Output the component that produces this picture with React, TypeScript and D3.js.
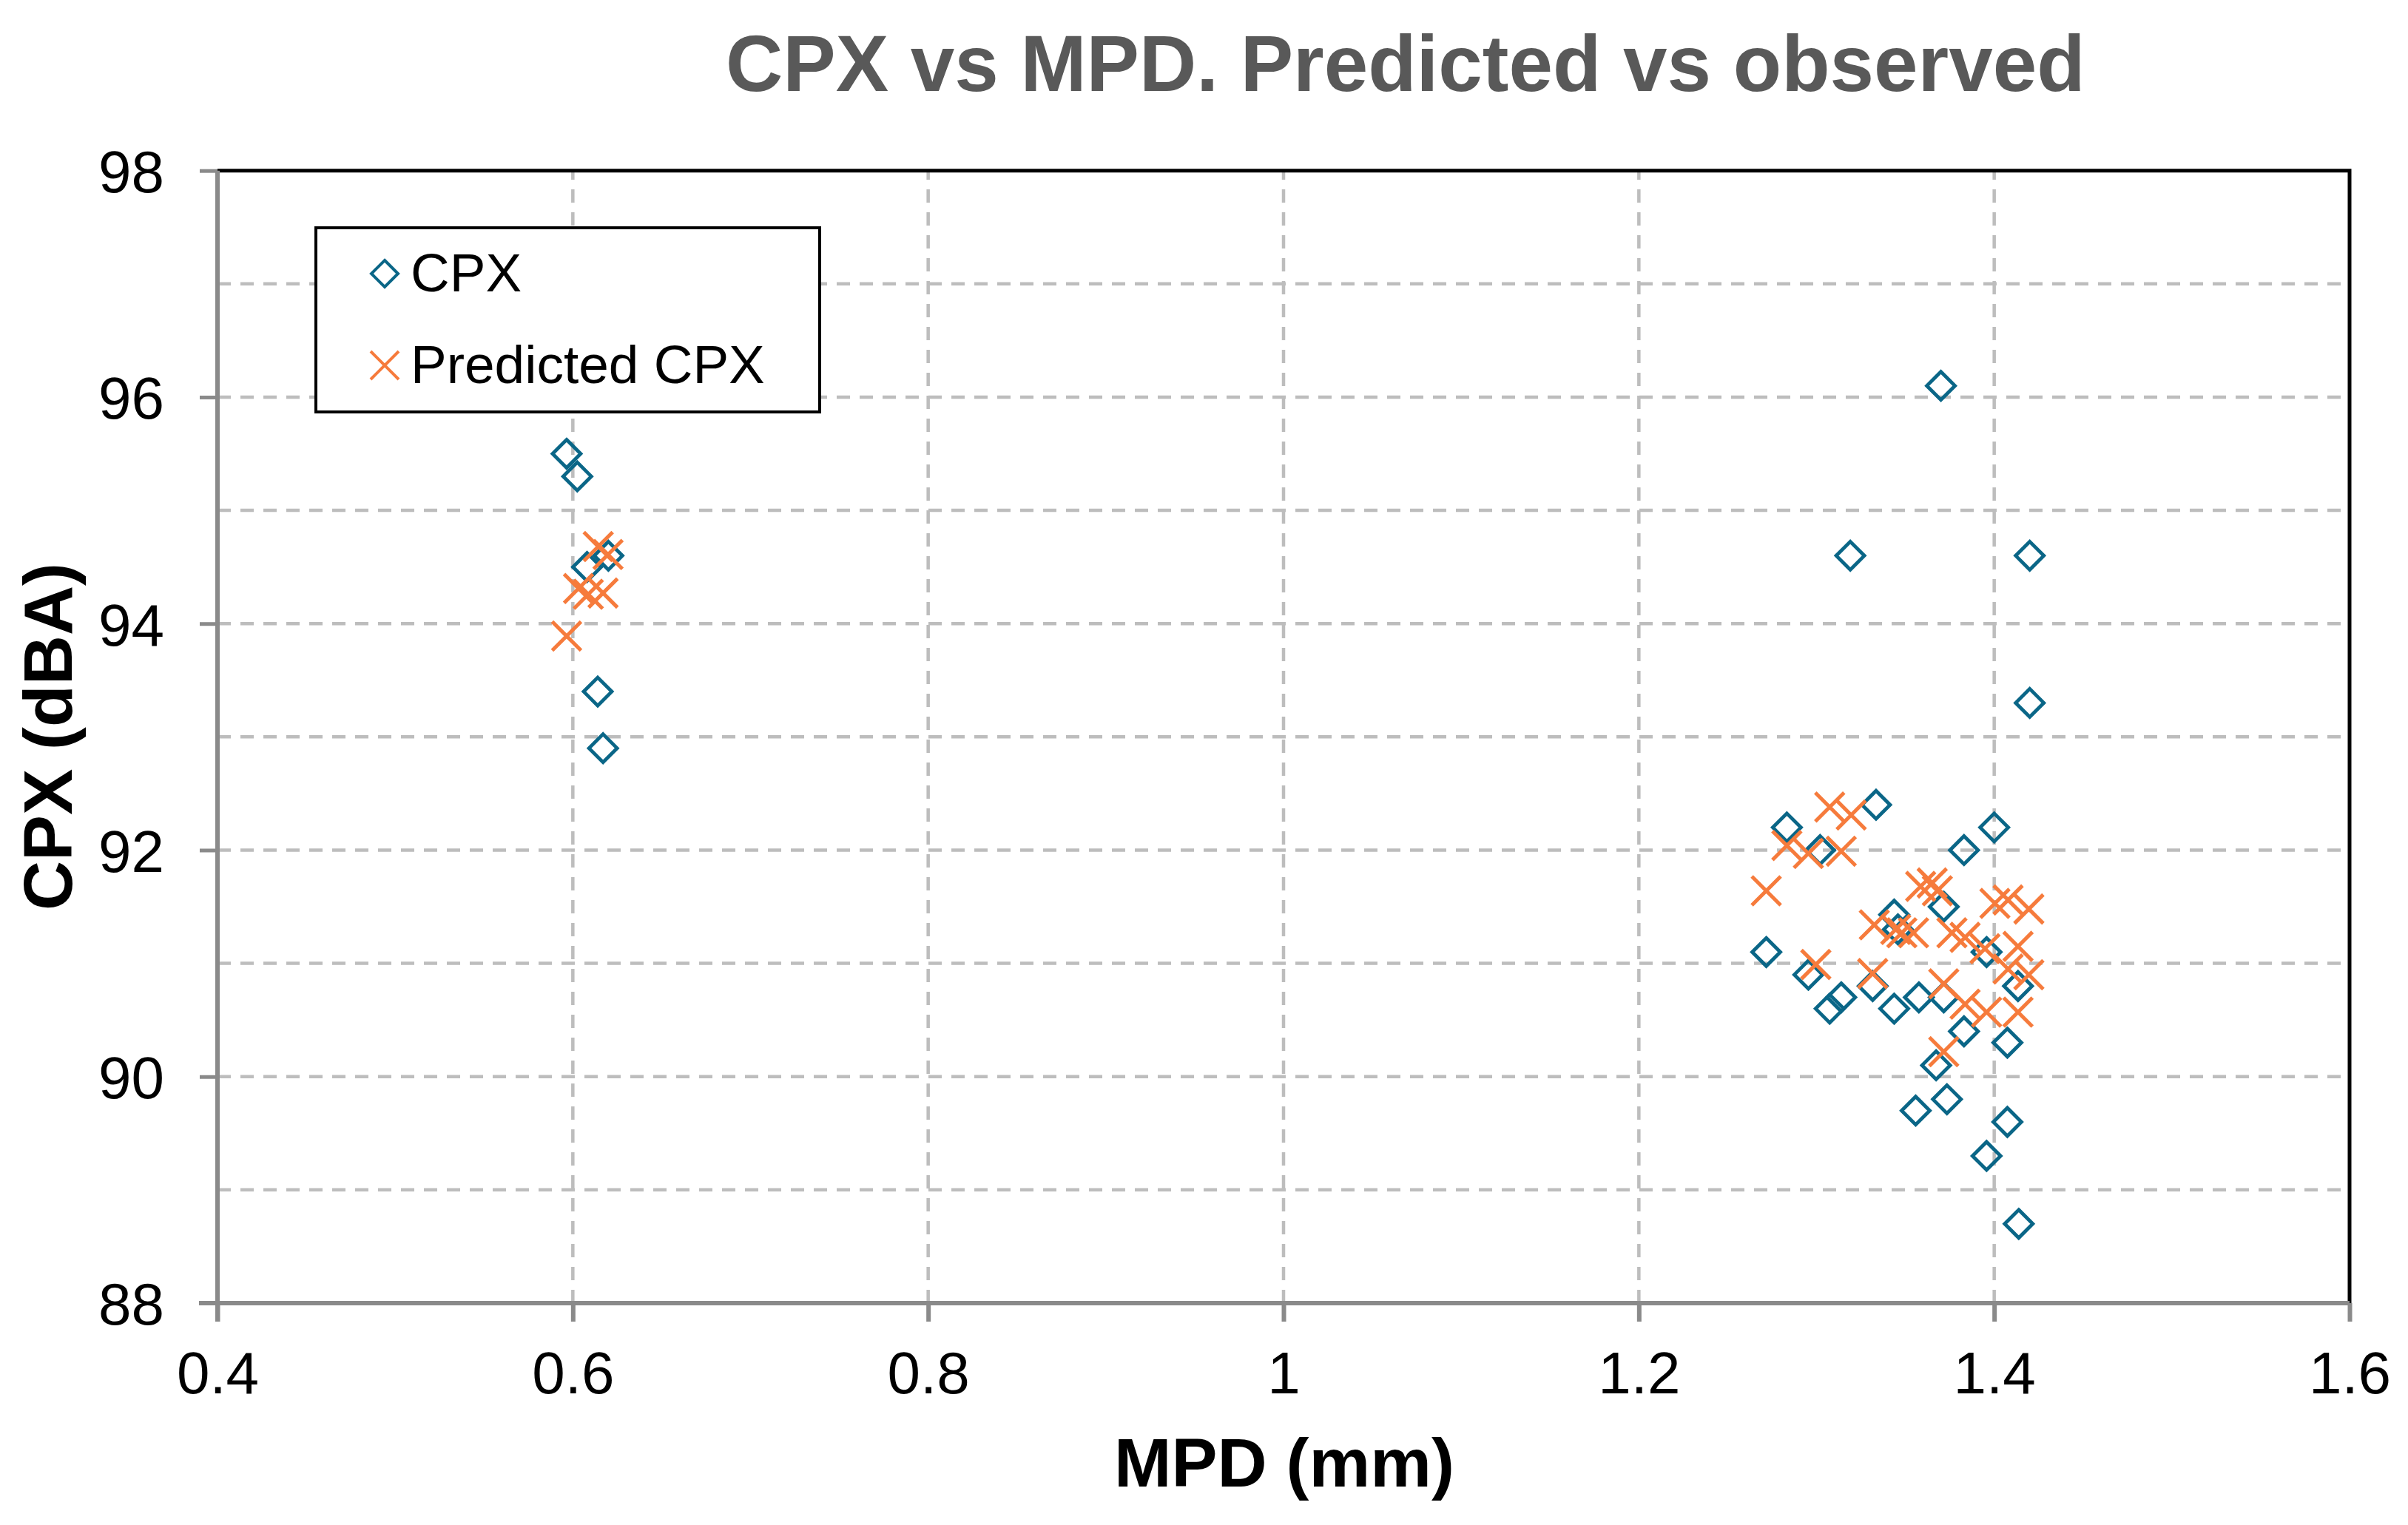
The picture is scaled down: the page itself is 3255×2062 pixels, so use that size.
import React, { useEffect, useRef } from "react";
import * as d3 from "d3";

// ---- Data ----
const cpxMpd = [
  0.5965, 0.6025, 0.608, 0.62, 0.614, 0.617,
  1.37, 1.319, 1.42, 1.42,
  1.2833, 1.3335, 1.4, 1.302, 1.383,
  1.3716, 1.3437, 1.3458, 1.2717, 1.3957,
  1.2954, 1.4134, 1.3316, 1.3139, 1.3074, 1.3437, 1.3576, 1.3716,
  1.383, 1.4074, 1.3673, 1.3734, 1.3558, 1.4074, 1.3957, 1.4138,
];
const cpxObserved = [
  95.5, 95.3, 94.5, 94.6, 93.4, 92.9,
  96.1, 94.6, 94.6, 93.3,
  92.2, 92.4, 92.2, 92.0, 92.0,
  91.5, 91.43, 91.3, 91.1, 91.1,
  90.9, 90.8, 90.8, 90.7, 90.6, 90.6, 90.7, 90.7,
  90.4, 90.3, 90.1, 89.8, 89.7, 89.6, 89.3, 88.7,
];
const predMpd = [
  0.6143, 0.6198, 0.6032, 0.6087, 0.617, 0.5965,
  1.3074, 1.3195, 1.2833, 1.2954, 1.3139, 1.2717,
  1.3586, 1.3651, 1.368, 1.4004, 1.4078, 1.4195,
  1.3325, 1.3446, 1.348, 1.3546, 1.3762, 1.3836,
  1.4134, 1.3948, 1.4078, 1.4195, 1.2996, 1.3316,
  1.3716, 1.3836, 1.3957, 1.4134, 1.3716,
];
const cpxPredicted = [
  94.68, 94.61, 94.31, 94.26, 94.27, 93.89,
  92.38, 92.31, 92.04, 91.97, 91.99, 91.64,
  91.68, 91.71, 91.64, 91.53, 91.56, 91.48,
  91.34, 91.3, 91.27, 91.27, 91.27, 91.23,
  91.15, 91.13, 90.95, 90.9, 90.99, 90.91,
  90.82, 90.64, 90.57, 90.57, 90.22,
];
const xTicks = [0.4, 0.6, 0.8, 1.0, 1.2, 1.4, 1.6];
const yTicks = [88, 90, 92, 94, 96, 98];
const yGrid = [89, 90, 91, 92, 93, 94, 95, 96, 97];
const xGrid = [0.6, 0.8, 1.0, 1.2, 1.4];
const titleText = "CPX vs MPD. Predicted vs observed";
const xLabel = "MPD (mm)";
const yLabel = "CPX (dBA)";
const seriesNames = ["CPX", "Predicted CPX"];

const W = 3255;
const H = 2062;
const TEAL = "#0a6687";
const ORANGE = "#f67b3c";
const FONT = "'Liberation Sans', Arial, Helvetica, sans-serif";

export default function App() {
  const ref = useRef<SVGSVGElement>(null);

  useEffect(() => {
    const svg = d3.select(ref.current);
    svg.selectAll("*").remove();

    const left = 294, right = 3176, top = 230.7, bottom = 1762;
    const x = d3.scaleLinear().domain([0.4, 1.6]).range([left, right]);
    const y = d3.scaleLinear().domain([88, 98]).range([bottom, top]);

    svg.append("rect").attr("width", W).attr("height", H).attr("fill", "#fff");

    // grid
    const grid = svg.append("g").attr("stroke", "#bdbdbd").attr("stroke-width", 4.5).attr("stroke-dasharray", "18,13");
    grid.selectAll("line.h").data(yGrid).enter().append("line")
      .attr("x1", left).attr("x2", right).attr("y1", (d) => y(d)).attr("y2", (d) => y(d));
    grid.selectAll("line.v").data(xGrid).enter().append("line")
      .attr("y1", bottom).attr("y2", top).attr("x1", (d) => x(d)).attr("x2", (d) => x(d));

    // border top/right black
    svg.append("path")
      .attr("d", `M${left},${top}H${right}V${bottom}`)
      .attr("fill", "none").attr("stroke", "#000").attr("stroke-width", 5);

    // axes
    const axisColor = "#8a8a8a";
    const xAxis = d3.axisBottom(x).tickValues(xTicks).tickSize(25).tickFormat((d) => d3.format("")(+d as number) as string);
    const gx = svg.append("g").attr("transform", `translate(0,${bottom})`).call(xAxis);
    gx.select(".domain").remove();
    gx.selectAll(".tick line").attr("stroke", axisColor).attr("stroke-width", 6);
    gx.selectAll(".tick text").attr("font-family", FONT).attr("font-size", 80).attr("fill", "#000")
      .attr("y", 0).attr("dy", 0).attr("transform", "translate(0,122)");
    svg.append("line").attr("x1", left - 25).attr("x2", right).attr("y1", bottom).attr("y2", bottom)
      .attr("stroke", axisColor).attr("stroke-width", 6);

    const yAxis = d3.axisLeft(y).tickValues(yTicks).tickSize(24);
    const gy = svg.append("g").attr("transform", `translate(${left},0)`).call(yAxis);
    gy.select(".domain").remove();
    gy.selectAll(".tick line").attr("stroke", axisColor).attr("stroke-width", 5);
    gy.selectAll(".tick text").attr("font-family", FONT).attr("font-size", 80).attr("fill", "#000")
      .attr("x", -72).attr("dy", "0.36em");
    svg.append("line").attr("x1", left).attr("x2", left).attr("y1", top).attr("y2", bottom + 25)
      .attr("stroke", axisColor).attr("stroke-width", 6);

    // points
    const diamond = (cx: number, cy: number, r: number) => `M${cx},${cy - r}L${cx + r},${cy}L${cx},${cy + r}L${cx - r},${cy}Z`;
    const cross = (cx: number, cy: number, r: number) => `M${cx - r},${cy - r}L${cx + r},${cy + r}M${cx - r},${cy + r}L${cx + r},${cy - r}`;

    const obs = cpxMpd.map((m, i) => [m, cpxObserved[i]]);
    const pred = predMpd.map((m, i) => [m, cpxPredicted[i]]);

    svg.append("g").selectAll("path").data(obs).enter().append("path")
      .attr("d", (d) => diamond(x(d[0]), y(d[1]), 19))
      .attr("fill", "none").attr("stroke", TEAL).attr("stroke-width", 4.8);
    svg.append("g").selectAll("path").data(pred).enter().append("path")
      .attr("d", (d) => cross(x(d[0]), y(d[1]), 19.5))
      .attr("fill", "none").attr("stroke", ORANGE).attr("stroke-width", 5);

    // legend
    const lg = svg.append("g");
    lg.append("rect").attr("x", 427).attr("y", 308).attr("width", 681).attr("height", 249)
      .attr("fill", "#fff").attr("stroke", "#000").attr("stroke-width", 4);
    lg.append("path").attr("d", diamond(520, 370, 18)).attr("fill", "none").attr("stroke", TEAL).attr("stroke-width", 4);
    lg.append("path").attr("d", cross(520, 494, 19)).attr("fill", "none").attr("stroke", ORANGE).attr("stroke-width", 4);
    lg.append("text").attr("x", 555).attr("y", 394).attr("font-family", FONT).attr("font-size", 73).attr("fill", "#000").text(seriesNames[0]);
    lg.append("text").attr("x", 555).attr("y", 518).attr("font-family", FONT).attr("font-size", 73).attr("fill", "#000").text(seriesNames[1]);

    // titles
    svg.append("text").attr("x", 981).attr("y", 123).attr("font-family", FONT).attr("font-weight", "bold")
      .attr("font-size", 107).attr("fill", "#595959").text(titleText);
    svg.append("text").attr("x", 1736).attr("y", 2010).attr("text-anchor", "middle").attr("font-family", FONT)
      .attr("font-weight", "bold").attr("font-size", 93).attr("fill", "#000").text(xLabel);
    svg.append("text").attr("transform", `translate(97,996) rotate(-90)`).attr("text-anchor", "middle")
      .attr("font-family", FONT).attr("font-weight", "bold").attr("font-size", 93).attr("fill", "#000").text(yLabel);
  }, []);

  return (
    <svg
      ref={ref}
      width={W}
      height={H}
      viewBox={`0 0 ${W} ${H}`}
      style={{ position: "absolute", left: 0, top: 0, display: "block" }}
    />
  );
}
